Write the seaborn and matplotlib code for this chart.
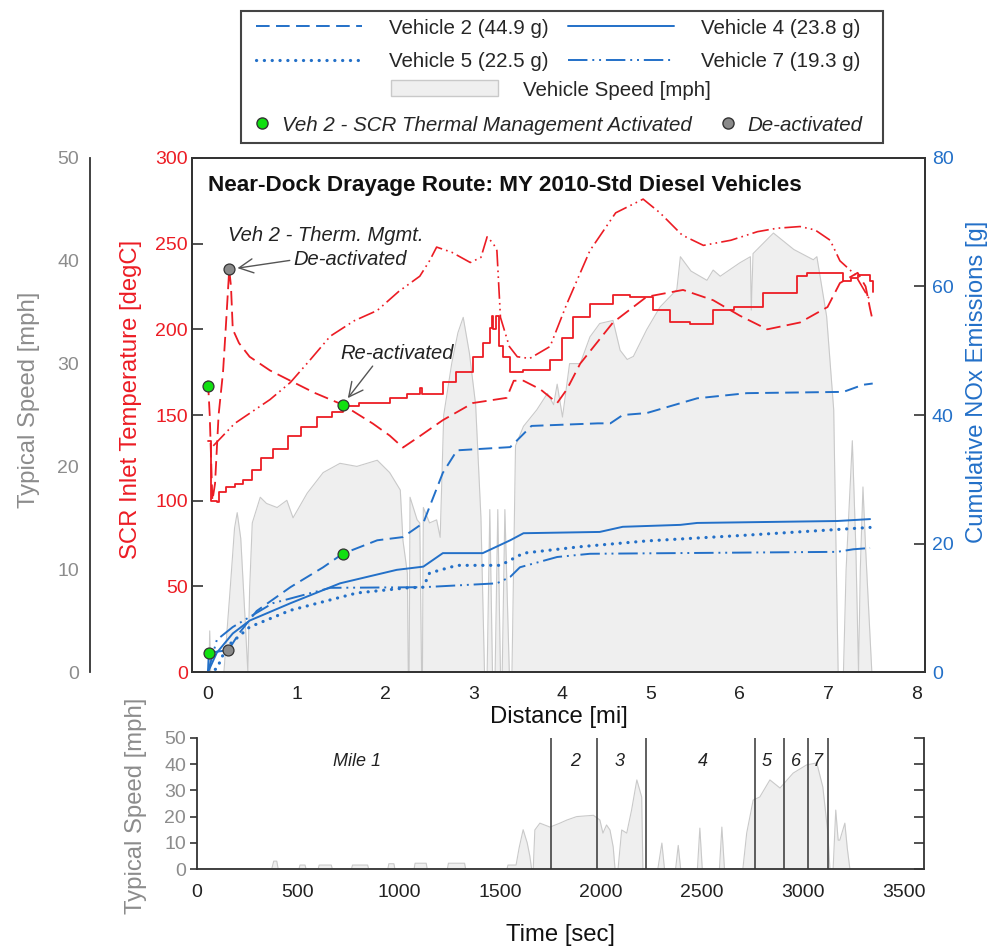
import matplotlib as mpl
import matplotlib.pyplot as plt
from matplotlib.lines import Line2D
from matplotlib.patches import Patch, Rectangle
import numpy as np
import seaborn as sns

sns.set_style('white')
plt.rcParams['font.family'] = ['Liberation Sans', 'DejaVu Sans']

# Distance based data (main panel)
# SCR inlet temperature [degC]
dist_t2 = [0.00, 0.02, 0.05, 0.08, 0.12, 0.17, 0.20, 0.24, 0.26, 0.28, 0.35, 0.47, 0.70, 0.93, 1.20, 1.52, 1.86, 2.05,
           2.20, 2.40, 2.65, 2.99, 3.37, 3.45, 3.56, 3.75, 3.94, 4.05, 4.20, 4.57, 4.95, 5.36, 5.70, 6.00, 6.31, 6.68,
           6.99, 7.13, 7.33, 7.42, 7.47, 7.50]
temp_v2 = [170, 150, 100, 110, 150, 175, 200, 235, 225, 200, 192, 184, 176, 170, 163, 156, 145, 138,
           131, 138, 147, 157, 160, 170, 170, 165, 157, 165, 180, 204, 219, 223, 217, 208, 200, 204,
           213, 227, 233, 225, 212, 205]
dist_t4 = [0.00, 0.02, 0.03, 0.10, 0.12, 0.20, 0.30, 0.40, 0.50, 0.60, 0.73, 0.90, 1.05, 1.23, 1.40, 1.52, 1.70, 2.05,
           2.25, 2.39, 2.42, 2.65, 2.80, 2.99, 3.10, 3.18, 3.20, 3.22, 3.25, 3.28, 3.33, 3.38, 3.41, 3.56, 3.86, 4.00,
           4.12, 4.31, 4.57, 4.76, 5.02, 5.21, 5.44, 5.70, 5.93, 6.26, 6.65, 6.76, 7.10, 7.17, 7.25, 7.33, 7.47, 7.50]
temp_v4 = [135, 135, 100, 99, 105, 108, 110, 112, 118, 125, 130, 138, 143, 149, 152, 155, 157, 160,
           162, 166, 162, 169, 175, 184, 192, 201, 208, 200, 208, 190, 184, 184, 175, 176, 182, 195,
           207, 215, 220, 219, 211, 204, 203, 211, 213, 221, 231, 233, 233, 228, 230, 232, 228, 222]
dist_t7 = [0.06, 0.30, 0.70, 0.93, 1.15, 1.38, 1.65, 1.91, 2.15, 2.39, 2.50, 2.58, 2.75, 2.96, 3.08, 3.15, 3.22, 3.26,
           3.30, 3.40, 3.49, 3.63, 3.86, 4.05, 4.31, 4.60, 4.91, 5.10, 5.35, 5.59, 5.90, 6.20, 6.42, 6.68, 6.85, 7.02,
           7.13, 7.30, 7.47]
temp_v7 = [132, 145, 159, 169, 182, 196, 205, 211, 222, 231, 240, 248, 245, 239, 242, 254, 250, 246,
           207, 190, 184, 183, 190, 215, 246, 268, 276, 268, 255, 249, 252, 257, 259, 260, 258, 252,
           240, 232, 217]

# Cumulative NOx [g]
dist_n2 = [0.00, 0.01, 0.23, 0.35, 0.55, 0.93, 1.30, 1.52, 1.91, 2.20, 2.43, 2.50, 2.65, 2.81, 3.41, 3.52, 3.65,
           4.40, 4.54, 4.68, 4.95, 5.52, 6.08, 7.17, 7.39, 7.50]
nox_v2 = [0, 3.0, 3.4, 6.0, 9.5, 13.2, 16.3, 18.4, 20.5, 21.0, 23.2, 25.7, 31.0, 34.5, 35.0, 36.5, 38.3,
          38.7, 38.7, 40.0, 40.3, 42.6, 43.4, 43.6, 44.7, 44.9]
dist_n4 = [0.00, 0.10, 0.28, 0.47, 0.93, 1.49, 2.13, 2.43, 2.65, 3.10, 3.41, 3.56, 4.42, 4.68, 5.33, 5.52, 7.10, 7.47]
nox_v4 = [0, 3, 6, 8, 10.7, 13.8, 15.9, 16.4, 18.5, 18.5, 20.5, 21.6, 21.8, 22.6, 22.9, 23.2, 23.5, 23.8]
dist_n5 = [0.00, 0.10, 0.21, 0.47, 0.93, 1.68, 2.25, 2.43, 2.50, 2.81, 3.30, 3.56, 4.20, 4.95, 6.08, 7.47]
nox_v5 = [0, 0.5, 3.9, 7, 9.6, 12.3, 13.1, 13.2, 15.4, 16.6, 16.6, 18.5, 19.5, 20.4, 21.3, 22.5]
dist_n7 = [0.00, 0.10, 0.28, 0.73, 1.38, 2.43, 3.26, 3.41, 3.52, 3.94, 4.31, 7.10, 7.28, 7.47]
nox_v7 = [0, 5, 7, 10.7, 13.1, 13.2, 13.8, 14.8, 16.3, 17.9, 18.4, 18.7, 19.1, 19.3]

# Vehicle speed vs distance [mph]
dist_spd = [0.00, 0.01, 0.02, 0.03, 0.18, 0.25, 0.30, 0.33, 0.37, 0.42, 0.45, 0.47, 0.50, 0.59, 0.66, 0.78, 0.89,
            0.96, 1.12, 1.30, 1.49, 1.68, 1.91, 2.05, 2.17, 2.20, 2.25, 2.26, 2.27, 2.28, 2.36, 2.39, 2.41, 2.42,
            2.43, 2.50, 2.58, 2.62, 2.66, 2.75, 2.82, 2.88, 2.95, 3.02, 3.08, 3.12, 3.15, 3.18, 3.21, 3.24, 3.27,
            3.30, 3.32, 3.35, 3.40, 3.43, 3.47, 3.56, 3.71, 3.83, 3.90, 3.94, 4.00, 4.08, 4.20, 4.31, 4.42, 4.57,
            4.65, 4.73, 4.80, 4.95, 5.10, 5.29, 5.33, 5.45, 5.55, 5.63, 5.70, 5.78, 6.00, 6.12, 6.13, 6.15, 6.38,
            6.61, 6.83, 6.87, 6.98, 7.06, 7.09, 7.11, 7.17, 7.20, 7.27, 7.31, 7.34, 7.36, 7.39, 7.42, 7.49]
spd_dist = [0, 0, 4, 0, 0, 8, 14, 15.5, 13, 5, 0, 8, 14.5, 17, 16.4, 16, 16.7,
            15, 17.4, 19.4, 20.3, 20, 20.6, 19.4, 17.7, 12.8, 9.6, 0, 0, 17, 14.8, 14.5, 0, 0,
            16, 14.5, 14.8, 13.1, 25, 30, 33, 34.5, 31, 26, 15, 0, 0, 15.8, 0, 0, 15.8,
            0, 0, 15.8, 0, 0, 22, 23.9, 25.5, 27.1, 26, 28, 24.8, 30, 30, 32.6, 33.9, 34.2,
            31.3, 30.4, 30.7, 33.3, 35.5, 37.2, 40.4, 39, 38.5, 38.1, 39.1, 38.5, 39.8, 40.4, 35.2, 40.7, 42.7,
            41.1, 40.1, 40.4, 34.6, 25.5, 10, 0, 0, 10, 22.5, 12, 0, 10, 18, 12, 0]

# Vehicle speed vs time (bottom panel)
time_s = [0, 370, 380, 395, 402, 505, 510, 535, 540, 600, 605, 665, 670, 765, 770, 845, 850, 945, 950, 975, 980,
          1075, 1080, 1135, 1140, 1240, 1245, 1325, 1330, 1535, 1540, 1580, 1595, 1615, 1635, 1648, 1657, 1665,
          1673, 1698, 1748, 1797, 1832, 1880, 1963, 1995, 2010, 2028, 2045, 2061, 2070, 2085, 2103, 2128, 2152,
          2178, 2202, 2208, 2282, 2302, 2315, 2370, 2383, 2395, 2478, 2490, 2502, 2587, 2599, 2612, 2703, 2722,
          2754, 2787, 2837, 2887, 2952, 3018, 3069, 3099, 3124, 3134, 3150, 3163, 3175, 3183, 3208, 3220, 3233]
spd_time = [0, 0, 3, 3, 0, 0, 1.5, 1.5, 0, 0, 1.5, 1.5, 0, 0, 1.5, 1.5, 0, 0, 2, 2, 0,
            0, 2.2, 2.2, 0, 0, 2.2, 2.2, 0, 0, 1.5, 1.5, 8, 15, 10, 5, 0, 0,
            14.9, 17.5, 16, 17.5, 18.7, 20, 20.5, 18.7, 13.7, 16.8, 14.9, 8.4, 0, 0, 14.9, 13.7, 22.5,
            34, 27.5, 0, 0, 9.9, 0, 0, 9, 0, 0, 15.6, 0, 0, 16, 0, 0, 13.7,
            26.3, 27.5, 34, 30.9, 36.6, 39.7, 40.5, 31.3, 13.7, 0, 0, 22.5, 11, 11, 17.5, 8, 0]

mile_marks = [1752, 1979, 2223, 2762, 2906, 3026, 3125]
mile_labels = ['Mile 1', '2', '3', '4', '5', '6', '7']
mile_label_t = [792, 1871, 2094, 2505, 2822, 2965, 3069]

veh_labels = ['Vehicle 2 (44.9 g)', 'Vehicle 4 (23.8 g)', 'Vehicle 5 (22.5 g)', 'Vehicle 7 (19.3 g)']

RED = '#ec1c24'
BLUE = '#2370c8'
GRAY_TXT = '#8c8c8c'
FILL = '#efefef'
FILL_EDGE = '#c9c9c9'
GREEN = '#11e011'
GRAYDOT = '#8a8a8a'
FS = 14        # tick labels
LFS = 17.2     # axis labels
GFS = 14.8     # legend

ls_v2 = (0, (7, 3.3))
ls_v4 = '-'
ls_v5 = (0, (0.05, 2.4))
ls_v7 = (0, (10, 2.5, 1, 2.5, 1, 2.5))

W, H = 988, 946
fig = plt.figure(figsize=(W / 100, H / 100), dpi=100)


def rect(x0, y0, x1, y1):
    return [x0 / W, 1 - y1 / H, (x1 - x0) / W, (y1 - y0) / H]


# ---- main panel ----
ax_spd = fig.add_axes(rect(192, 158, 925, 672))
ax_t = fig.add_axes(rect(192, 158, 925, 672))
ax_t.patch.set_visible(False)
ax_n = ax_t.twinx()

xlim = (-0.18, 8.09)
ax_spd.fill_between(dist_spd, spd_dist, color=FILL, lw=0)
sns.lineplot(x=dist_spd, y=spd_dist, ax=ax_spd, color=FILL_EDGE, lw=0.8, estimator=None, sort=False)
ax_spd.set_xlim(xlim)
ax_spd.set_ylim(0, 50)
ax_spd.set_yticks(range(0, 51, 10))
ax_spd.set_xticks([])
for s in ['top', 'right', 'bottom']:
    ax_spd.spines[s].set_visible(False)
ax_spd.spines['left'].set_position(('outward', 73.4))
ax_spd.spines['left'].set_color('#333333')
ax_spd.spines['left'].set_linewidth(1.3)
ax_spd.tick_params(axis='y', direction='out', length=5, width=1.2, color='#333333',
                   labelcolor=GRAY_TXT, labelsize=FS, pad=3)
ax_spd.set_ylabel('Typical Speed [mph]', color=GRAY_TXT, fontsize=LFS)
ax_spd.yaxis.set_label_coords(-0.207, 0.53)

# temperature lines
sns.lineplot(x=dist_t2, y=temp_v2, ax=ax_t, color=RED, lw=1.3, linestyle=(0, (8, 3.5)),
             estimator=None, sort=False)
sns.lineplot(x=dist_t4, y=temp_v4, ax=ax_t, color=RED, lw=1.3, drawstyle='steps-post',
             estimator=None, sort=False)
sns.lineplot(x=dist_t7, y=temp_v7, ax=ax_t, color=RED, lw=1.2, linestyle=ls_v7,
             estimator=None, sort=False)

# NOx lines
sns.lineplot(x=dist_n2, y=nox_v2, ax=ax_n, color=BLUE, lw=1.4, linestyle=ls_v2, estimator=None, sort=False)
sns.lineplot(x=dist_n4, y=nox_v4, ax=ax_n, color=BLUE, lw=1.4, linestyle=ls_v4, estimator=None, sort=False)
sns.lineplot(x=dist_n5, y=nox_v5, ax=ax_n, color=BLUE, lw=2.3, linestyle=ls_v5, dash_capstyle='round',
             estimator=None, sort=False)
sns.lineplot(x=dist_n7, y=nox_v7, ax=ax_n, color=BLUE, lw=1.4, linestyle=ls_v7, estimator=None, sort=False)

# activation markers
mk = dict(s=62, linewidth=0.9, edgecolor='#333333', zorder=5, legend=False)
sns.scatterplot(x=[0.0, 1.52], y=[167, 156], ax=ax_t, color=GREEN, **mk)
sns.scatterplot(x=[0.24], y=[235], ax=ax_t, color=GRAYDOT, **mk)
sns.scatterplot(x=[0.01, 1.52], y=[3.0, 18.4], ax=ax_n, color=GREEN, **mk)
sns.scatterplot(x=[0.23], y=[3.4], ax=ax_n, color=GRAYDOT, **mk)

ax_t.set_xlim(xlim)
ax_t.set_ylim(0, 300)
ax_t.set_xticks(range(0, 9))
ax_t.set_yticks(range(0, 301, 50))
ax_t.tick_params(axis='x', direction='in', length=8, width=1.2, color='#333333', labelsize=FS,
                 labelcolor='#222222', pad=10, top=False)
ax_t.tick_params(axis='y', direction='in', length=8, width=1.2, color='#333333', labelsize=FS,
                 labelcolor=RED, pad=3, right=False)
ax_t.set_xlabel('Distance [mi]', fontsize=LFS, color='#111111', labelpad=2)
ax_t.set_ylabel('SCR Inlet Temperature [degC]', color=RED, fontsize=LFS)
ax_t.yaxis.set_label_coords(-0.068, 0.53)

ax_n.set_xlim(xlim)
ax_n.set_ylim(0, 80)
ax_n.set_yticks(range(0, 81, 20))
ax_n.tick_params(axis='y', direction='in', length=8, width=1.2, color='#333333', labelsize=FS,
                 labelcolor=BLUE, pad=5)
ax_n.set_ylabel('Cumulative NOx Emissions [g]', color=BLUE, fontsize=LFS)
ax_n.yaxis.set_label_coords(1.056, 0.565)
for a in (ax_t, ax_n):
    for s in a.spines.values():
        s.set_color('#333333')
        s.set_linewidth(1.3)

ax_t.text(0.022, 0.947, 'Near-Dock Drayage Route: MY 2010-Std Diesel Vehicles', transform=ax_t.transAxes,
          fontsize=16.2, fontweight='bold', va='center', ha='left', color='#111111')

arr = dict(arrowstyle='->,head_length=0.7,head_width=0.35', color='#555555', lw=1.0, shrinkA=0, shrinkB=6)
ax_t.text(0.226, 255, 'Veh 2 - Therm. Mgmt.', fontsize=14.5, style='italic', va='center', ha='left',
          color='#222222')
ax_t.annotate('De-activated', xy=(0.24, 235), xytext=(0.96, 240.5), fontsize=14.5, style='italic',
              va='center', ha='left', color='#222222',
              arrowprops=dict(arr, relpos=(0, 0.5)))
ax_t.annotate('Re-activated', xy=(1.52, 156), xytext=(1.49, 186), fontsize=14.5, style='italic',
              va='center', ha='left', color='#222222',
              arrowprops=dict(arr, relpos=(0.31, 0)))

# ---- bottom panel ----
ax_b = fig.add_axes(rect(197, 738, 924, 869))
ax_b.fill_between(time_s, spd_time, color=FILL, lw=0)
sns.lineplot(x=time_s, y=spd_time, ax=ax_b, color=FILL_EDGE, lw=0.8, estimator=None, sort=False)
for t in mile_marks:
    ax_b.axvline(t, ymin=0, ymax=1, color='#444444', lw=1.2)
for lab, t in zip(mile_labels, mile_label_t):
    ax_b.text(t, 41, lab, fontsize=13, style='italic', ha='center', va='center', color='#222222')
ax_b.set_xlim(0, 3600)
ax_b.set_ylim(0, 50)
ax_b.set_xticks(range(0, 3501, 500))
ax_b.set_yticks(range(0, 51, 10))
ax_b.spines['top'].set_visible(False)
for s in ['left', 'bottom', 'right']:
    ax_b.spines[s].set_color('#333333')
    ax_b.spines[s].set_linewidth(1.3)
ax_b.tick_params(axis='x', direction='in', length=7, width=1.2, color='#333333', labelsize=FS,
                 labelcolor='#222222', pad=11)
ax_b.tick_params(axis='y', direction='out', length=5, width=1.2, color='#333333', labelsize=FS,
                 labelcolor=GRAY_TXT, pad=3)
ax_b.set_xlabel('Time [sec]', fontsize=LFS, color='#111111', labelpad=16)
ax_b.set_ylabel('Typical Speed [mph]', color=GRAY_TXT, fontsize=LFS)
ax_b.yaxis.set_label_coords(-0.069, 0.48)
ax_b2 = ax_b.twinx()
ax_b2.set_ylim(0, 50)
ax_b2.set_yticks(range(0, 51, 10))
ax_b2.tick_params(axis='y', direction='in', length=7, width=1.2, color='#333333', labelright=False)
for s in ['top', 'left', 'bottom', 'right']:
    ax_b2.spines[s].set_visible(False)

# ---- legend ----
fig.add_artist(Rectangle((241 / W, 1 - 143 / H), 642 / W, 132 / H, transform=fig.transFigure,
                         fill=False, edgecolor='#444444', lw=1.5))
h = [Line2D([], [], color=BLUE, lw=1.4, linestyle=ls_v2),
     Line2D([], [], color=BLUE, lw=2.3, linestyle=ls_v5, dash_capstyle='round'),
     Line2D([], [], color=BLUE, lw=1.4, linestyle=ls_v4),
     Line2D([], [], color=BLUE, lw=1.4, linestyle=ls_v7)]
lab = [veh_labels[0], veh_labels[2], veh_labels[1], veh_labels[3]]
fig.legend(h, lab, loc='center', bbox_to_anchor=(558 / W, 1 - 45 / H), ncol=2, frameon=False,
           fontsize=GFS, handlelength=5.15, handletextpad=1.3, columnspacing=0.97, labelspacing=0.72,
           borderpad=0)
fig.legend([Patch(facecolor=FILL, edgecolor=FILL_EDGE)], ['Vehicle Speed [mph]'], loc='center',
           bbox_to_anchor=(551 / W, 1 - 90 / H), frameon=False, fontsize=GFS, handlelength=5.2,
           handleheight=0.8, handletextpad=1.2, borderpad=0)
mh = [Line2D([], [], marker='o', color='none', markerfacecolor=GREEN, markeredgecolor='#333333', markersize=8),
      Line2D([], [], marker='o', color='none', markerfacecolor=GRAYDOT, markeredgecolor='#333333', markersize=8)]
fig.legend(mh, ['Veh 2 - SCR Thermal Management Activated', 'De-activated'], loc='center',
           bbox_to_anchor=(557 / W, 1 - 125 / H), ncol=2, frameon=False, handlelength=1,
           handletextpad=0.45, columnspacing=1.25, borderpad=0,
           prop={'size': GFS, 'style': 'italic'})

fig.savefig('out.png', dpi=100)
